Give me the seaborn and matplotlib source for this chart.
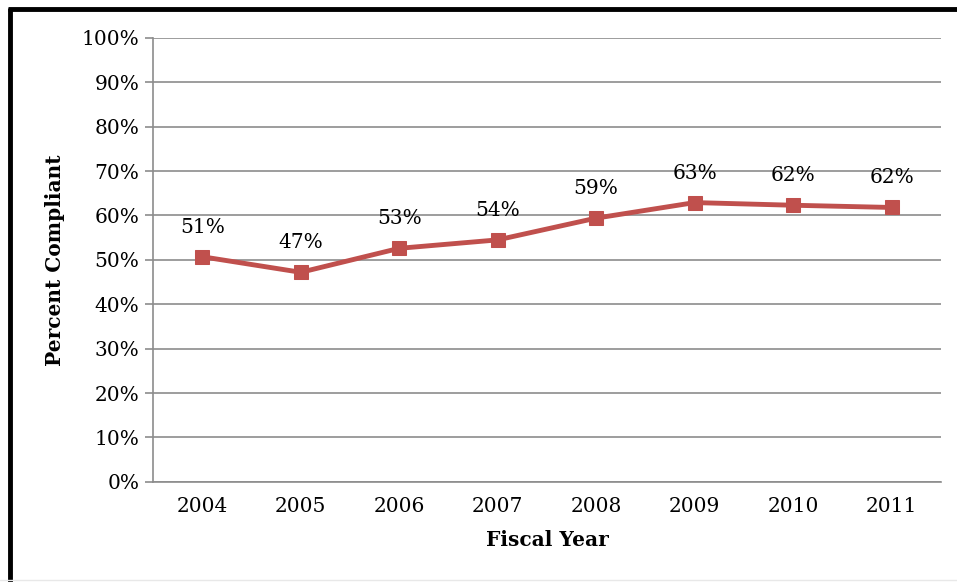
import matplotlib
matplotlib.use("Agg")
import matplotlib.pyplot as plt
import matplotlib.ticker as mticker
import seaborn as sns
import pandas as pd

# Chart data
years = ["2004", "2005", "2006", "2007", "2008", "2009", "2010", "2011"]
compliance = [50.7, 47.2, 52.6, 54.5, 59.4, 62.9, 62.3, 61.8]
point_labels = ["51%", "47%", "53%", "54%", "59%", "63%", "62%", "62%"]

df = pd.DataFrame({"Year": years, "Compliance": compliance})

sns.set_style("white")
plt.rcParams['font.family'] = ['DejaVu Serif']
plt.rcParams['text.color'] = 'black'
plt.rcParams['axes.labelcolor'] = 'black'
plt.rcParams['xtick.labelcolor'] = 'black'
plt.rcParams['ytick.labelcolor'] = 'black'

fig = plt.figure(figsize=(9.57, 5.82), dpi=100)
ax = fig.add_axes([0.160, 0.172, 0.823, 0.763])

line_color = "#C0504D"
grid_color = "#8C8C8C"

sns.lineplot(x="Year", y="Compliance", data=df, ax=ax, color=line_color,
             linewidth=3.5, marker="s", markersize=10, markeredgecolor=line_color,
             sort=False)

# Data labels
for i, (val, lab) in enumerate(zip(compliance, point_labels)):
    ax.text(i, val + 4.5, lab, ha="center", va="bottom", fontsize=14.5)

# Axes formatting
ax.set_xlim(-0.5, 7.5)
ax.set_ylim(0, 100)
ax.yaxis.set_major_locator(mticker.MultipleLocator(10))
ax.yaxis.set_major_formatter(mticker.FuncFormatter(lambda v, p: f"{int(v)}%"))
ax.grid(axis="y", color=grid_color, linewidth=1.2)
ax.set_axisbelow(True)

ax.set_xticks(range(len(years)))
ax.set_xticklabels(years)
ax.set_xticks([i - 0.5 for i in range(len(years) + 1)], minor=True)
ax.tick_params(axis="x", which="major", length=0, pad=11, labelsize=14.5)
ax.tick_params(axis="x", which="minor", length=6, color=grid_color, width=1.2)
ax.tick_params(axis="y", length=6, color=grid_color, width=1.2, left=True, pad=4, labelsize=14.5)

for side in ["top", "right"]:
    ax.spines[side].set_visible(False)
for side in ["left", "bottom"]:
    ax.spines[side].set_color(grid_color)
    ax.spines[side].set_linewidth(1.2)

ax.set_xlabel("Fiscal Year", fontsize=14.5, fontweight="bold", labelpad=10)
ax.set_ylabel("Percent Compliant", fontsize=14.5, fontweight="bold", labelpad=12)

# Outer frame (top and left black border)
fig.add_artist(plt.Line2D([0.0085, 1.0], [0.984, 0.984], transform=fig.transFigure,
                          color="black", linewidth=3.5, solid_capstyle="butt"))
fig.add_artist(plt.Line2D([0.0105, 0.0105], [0.0, 0.987], transform=fig.transFigure,
                          color="black", linewidth=3.5, solid_capstyle="butt"))
fig.add_artist(plt.Line2D([0.0, 1.0], [0.003, 0.003], transform=fig.transFigure,
                          color="#E8E8E8", linewidth=1.0))

fig.savefig("out.png", dpi=100)
plt.close(fig)
